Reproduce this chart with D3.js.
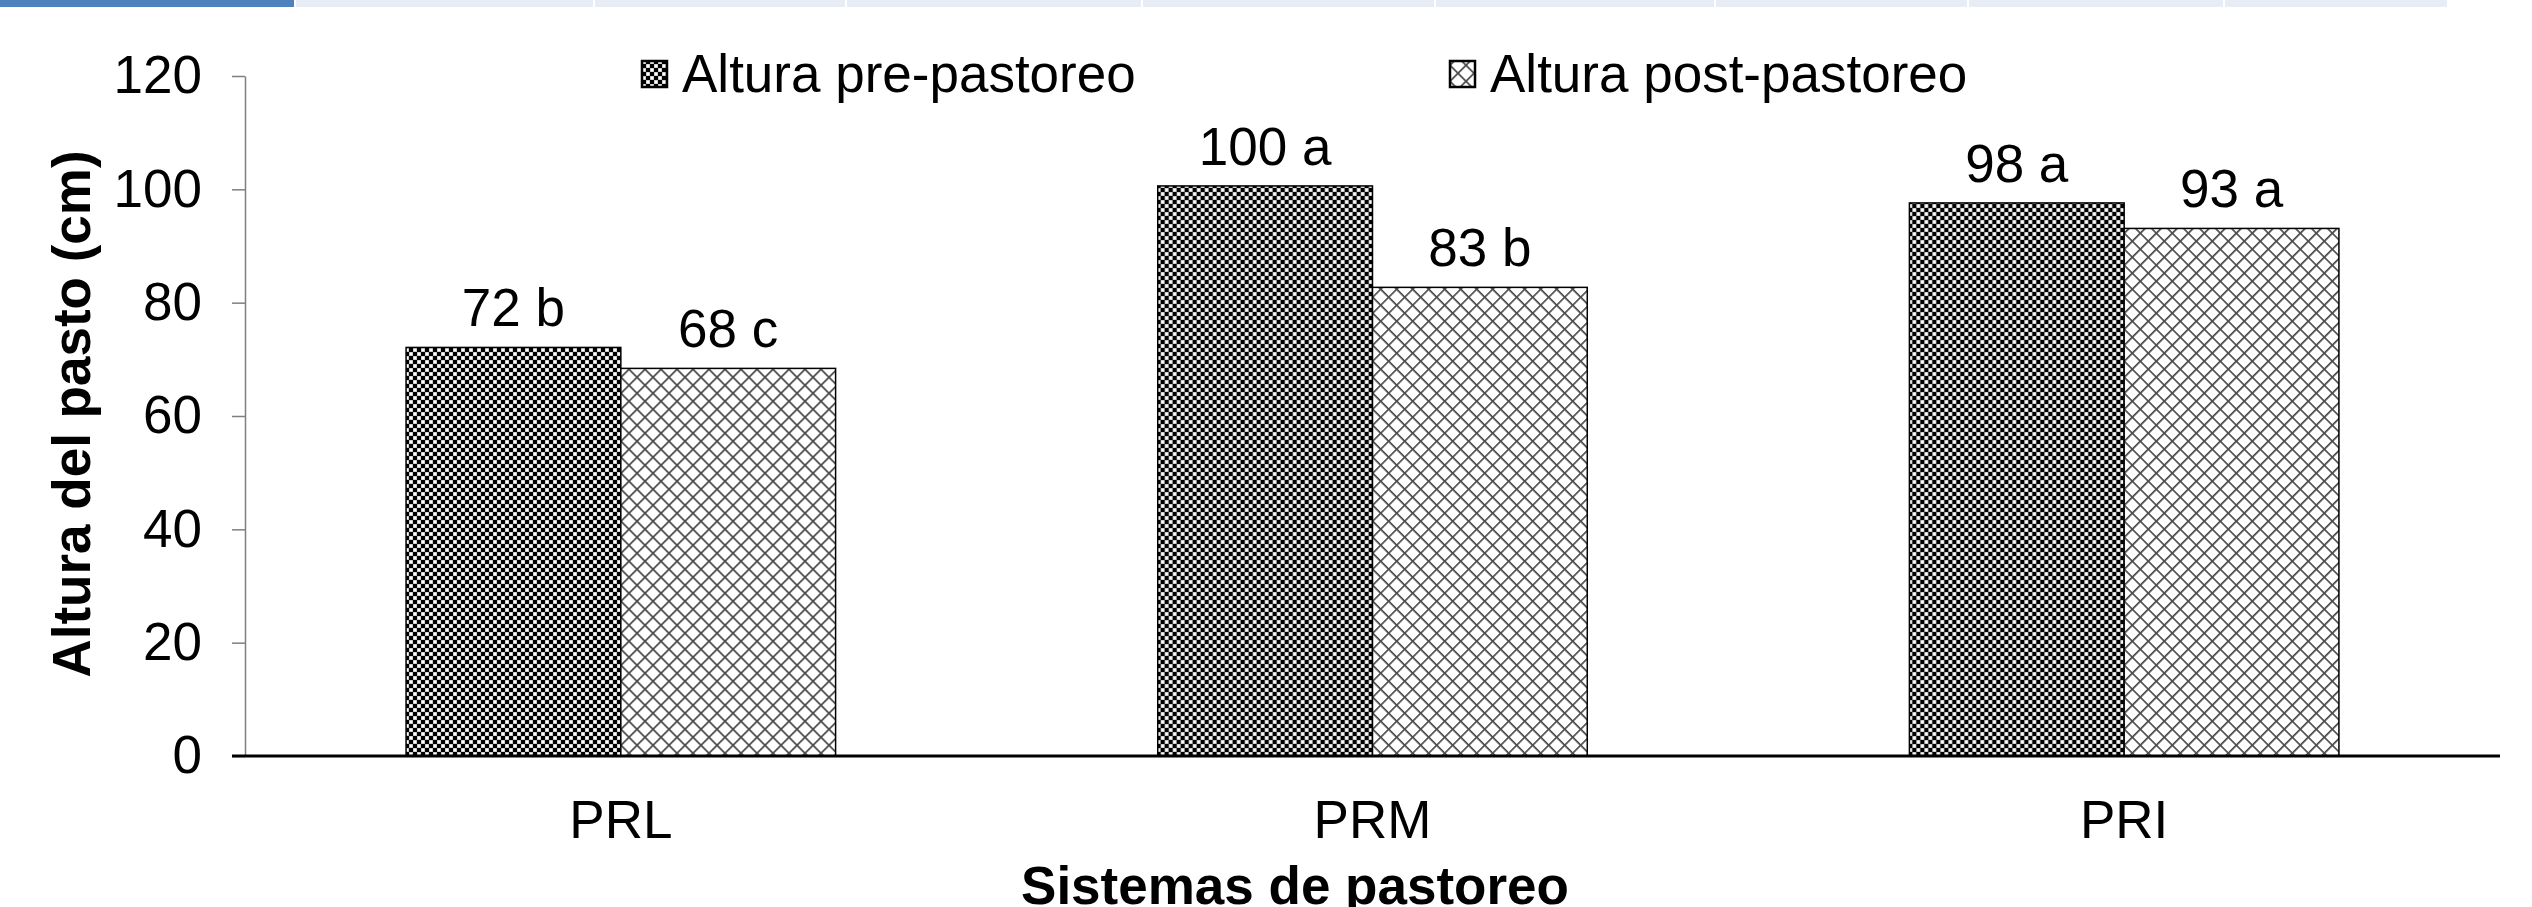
<!DOCTYPE html>
<html>
<head>
<meta charset="utf-8">
<script src="https://cdn.jsdelivr.net/npm/d3@7"></script>
<style>
	body { margin: 0; background: #fff; }
	text { font-family: "Liberation Sans", Arial, sans-serif; fill: #000; }
</style>
</head>
<body>
<script>

// chart data
var categories = ['PRL', 'PRM', 'PRI'];
var series = ['Altura pre-pastoreo', 'Altura post-pastoreo'];
var preValues = [72.1, 100.6, 97.6];
var postValues = [68.4, 82.7, 93.1];
var preLabels = ['72 b', '100 a', '98 a'];
var postLabels = ['68 c', '83 b', '93 a'];
var yTicks = [0, 20, 40, 60, 80, 100, 120];

// page header strip that is cut into the picture
var tabEdges = [0, 294, 593, 845, 1141, 1434, 1714, 1967, 2223, 2447];

var W = 2532, H = 907;
var dim = { left: 245, right: 2500, top: 76, bottom: 756 };
var fontSize = 53;

var svg = d3.select('body').append('svg')
	.attr('width', W)
	.attr('height', H);

var defs = svg.append('defs');

// dense checker board for pre-pastoreo
var checker = defs.append('pattern')
	.attr('id', 'checker')
	.attr('patternUnits', 'userSpaceOnUse')
	.attr('width', 8).attr('height', 8);
checker.append('rect').attr('width', 8).attr('height', 8).attr('fill', '#aaa');
checker.append('rect').attr('x', 0).attr('y', 0).attr('width', 4).attr('height', 4).attr('fill', '#000');
checker.append('rect').attr('x', 4).attr('y', 4).attr('width', 4).attr('height', 4).attr('fill', '#000');
checker.append('rect').attr('x', 4.5).attr('y', 0.5).attr('width', 3).attr('height', 3).attr('fill', '#fff');
checker.append('rect').attr('x', 0.5).attr('y', 4.5).attr('width', 3).attr('height', 3).attr('fill', '#fff');

// diagonal cross hatch for post-pastoreo
var s = 16 / Math.SQRT2;
var hatch = defs.append('pattern')
	.attr('id', 'hatch')
	.attr('patternUnits', 'userSpaceOnUse')
	.attr('width', s).attr('height', s)
	.attr('patternTransform', 'rotate(45)');
hatch.append('rect').attr('width', s).attr('height', s).attr('fill', '#fff');
hatch.append('rect').attr('width', s).attr('height', 1.7).attr('fill', '#4a4a4a');
hatch.append('rect').attr('width', 1.7).attr('height', s).attr('fill', '#4a4a4a');

var fills = ['url(#checker)', 'url(#hatch)'];

// header strip
var tabs = svg.append('g');
d3.pairs(tabEdges).forEach(function(p, i){
	tabs.append('rect')
		.attr('x', p[0] + (i ? 2 : 0))
		.attr('y', 0)
		.attr('width', p[1] - p[0] - (i ? 2 : 0))
		.attr('height', 7)
		.attr('fill', i ? '#e7ecf5' : '#4f81bd');
});

// scales
var x0 = d3.scaleBand()
	.domain(categories)
	.range([dim.left, dim.right])
	.paddingInner(0).paddingOuter(0);

var x1 = d3.scaleBand()
	.domain(series)
	.range([0, x0.bandwidth()])
	.paddingInner(0).paddingOuter(0.75);

var y = d3.scaleLinear()
	.domain([0, 120])
	.range([dim.bottom, dim.top]);

// y axis
var yAxis = svg.append('g')
	.attr('transform', 'translate(' + dim.left + ',0)')
	.call(d3.axisLeft(y).tickValues(yTicks).tickSizeInner(13).tickSizeOuter(0).tickPadding(30));
yAxis.select('.domain').attr('stroke', '#7f7f7f').attr('stroke-width', 1.5);
yAxis.selectAll('.tick line').attr('stroke', '#7f7f7f').attr('stroke-width', 1.5);
yAxis.selectAll('.tick text')
	.style('font-family', '"Liberation Sans", Arial, sans-serif')
	.style('font-size', fontSize + 'px')
	.attr('fill', '#000');

// bars
var rows = categories.map(function(c, i){
	return [
		{ cat: c, key: series[0], value: preValues[i], label: preLabels[i], fill: fills[0] },
		{ cat: c, key: series[1], value: postValues[i], label: postLabels[i], fill: fills[1] }
	];
});

var groups = svg.append('g').selectAll('g')
	.data(rows)
	.join('g')
	.attr('transform', function(d){ return 'translate(' + x0(d[0].cat) + ',0)'; });

groups.selectAll('rect')
	.data(function(d){ return d; })
	.join('rect')
	.attr('x', function(d){ return x1(d.key); })
	.attr('y', function(d){ return y(d.value); })
	.attr('width', x1.bandwidth())
	.attr('height', function(d){ return y(0) - y(d.value); })
	.attr('fill', function(d){ return d.fill; })
	.attr('stroke', '#000')
	.attr('stroke-width', 1.5);

groups.selectAll('text')
	.data(function(d){ return d; })
	.join('text')
	.attr('x', function(d){ return x1(d.key) + x1.bandwidth() / 2; })
	.attr('y', function(d){ return y(d.value) - 21; })
	.attr('text-anchor', 'middle')
	.style('font-size', fontSize + 'px')
	.text(function(d){ return d.label; });

// x axis
var xAxis = svg.append('g')
	.attr('transform', 'translate(0,' + dim.bottom + ')')
	.call(d3.axisBottom(x0).tickSize(0).tickPadding(44));
xAxis.select('.domain').remove();
xAxis.append('line')
	.attr('x1', 232).attr('x2', dim.right)
	.attr('stroke', '#000').attr('stroke-width', 3);
xAxis.selectAll('.tick text')
	.style('font-family', '"Liberation Sans", Arial, sans-serif')
	.style('font-size', fontSize + 'px')
	.attr('fill', '#000');

// axis titles
svg.append('text')
	.attr('transform', 'translate(90,414) rotate(-90)')
	.attr('text-anchor', 'middle')
	.style('font-size', fontSize + 'px')
	.style('font-weight', 'bold')
	.text('Altura del pasto (cm)');

svg.append('text')
	.attr('x', 1295).attr('y', 904)
	.attr('text-anchor', 'middle')
	.style('font-size', fontSize + 'px')
	.style('font-weight', 'bold')
	.text('Sistemas de pastoreo');

// legend
var legendPos = [642, 1450];
var legend = svg.append('g').selectAll('g')
	.data(series)
	.join('g')
	.attr('transform', function(d, i){ return 'translate(' + legendPos[i] + ',0)'; });

legend.append('rect')
	.attr('x', 0).attr('y', 61)
	.attr('width', 25).attr('height', 26)
	.attr('fill', function(d, i){ return fills[i]; })
	.attr('stroke', '#000')
	.attr('stroke-width', 2.5);

legend.append('text')
	.attr('x', 40).attr('y', 92)
	.style('font-size', fontSize + 'px')
	.text(function(d){ return d; });

</script>
</body>
</html>
